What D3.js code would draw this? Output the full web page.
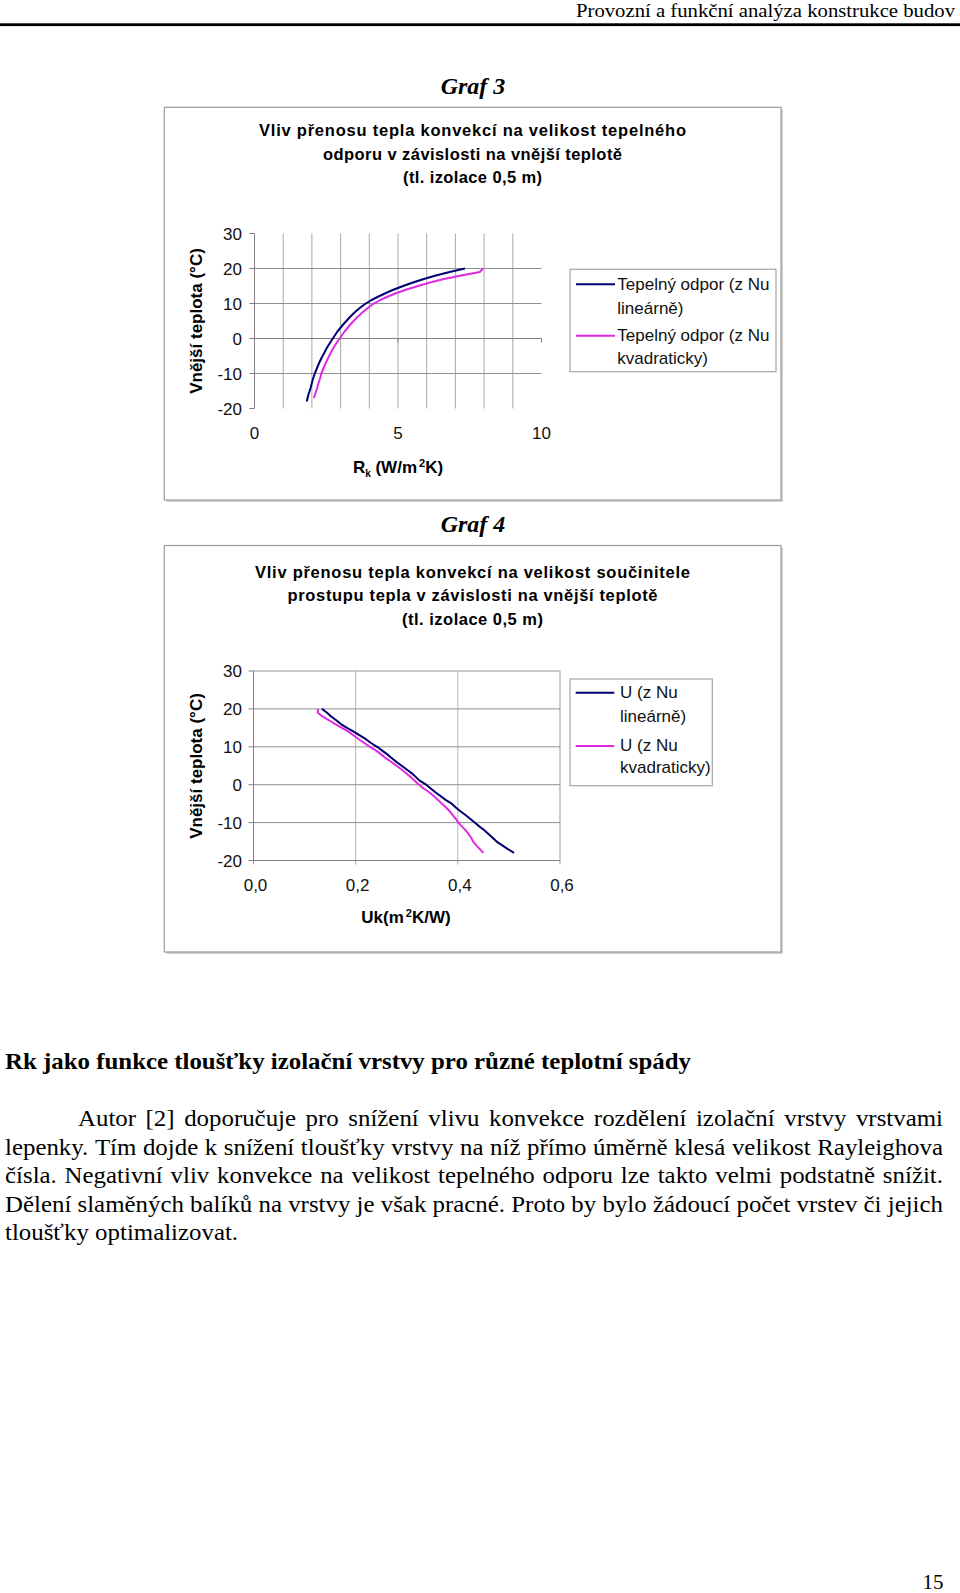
<!DOCTYPE html>
<html><head><meta charset="utf-8">
<script src="https://cdn.jsdelivr.net/npm/d3@7"></script>
<style>html,body{margin:0;padding:0;background:#fff;}svg{display:block;}</style>
</head><body>
<svg id="page" width="960" height="1593"></svg>
<script>
// ---------------- DATA ----------------
const temps = [-18,-17,-16,-15,-14,-13,-12,-11,-10,-9,-8,-7,-6,-5,-4,-3,-2,-1,0,1,2,3,4,5,6,7,8,9,10,11,12,13,14,15,16,17,18,19,20];
// Graf 3: thermal resistance Rk (W/m2K)
const rkLinear = [1.82,1.85,1.88,1.92,1.96,1.99,2.02,2.06,2.10,2.15,2.20,2.25,2.31,2.37,2.44,2.50,2.57,2.65,2.73,2.81,2.89,2.99,3.09,3.20,3.31,3.43,3.56,3.71,3.88,4.08,4.32,4.58,4.86,5.18,5.52,5.90,6.32,6.80,7.33];
const rkQuadratic = [null,2.07,2.11,2.15,2.19,2.22,2.26,2.30,2.33,2.38,2.43,2.48,2.54,2.60,2.66,2.73,2.80,2.88,2.97,3.05,3.14,3.24,3.34,3.45,3.57,3.70,3.84,3.99,4.16,4.38,4.65,4.95,5.30,5.70,6.12,6.60,7.20,7.85,7.96];
// Graf 4: U value
const ukLinear = [0.510,0.498,0.487,0.476,0.468,0.460,0.452,0.442,0.433,0.424,0.415,0.405,0.396,0.388,0.376,0.366,0.356,0.347,0.338,0.326,0.318,0.310,0.300,0.290,0.280,0.271,0.262,0.252,0.242,0.230,0.220,0.208,0.196,0.183,0.171,0.162,0.152,0.144,0.134];
const ukQuadratic = [0.450,0.443,0.436,0.430,0.426,0.421,0.415,0.408,0.401,0.396,0.390,0.384,0.377,0.369,0.361,0.353,0.344,0.333,0.324,0.316,0.308,0.299,0.290,0.280,0.270,0.259,0.250,0.240,0.228,0.217,0.206,0.196,0.186,0.173,0.160,0.148,0.135,0.126,0.126];

const tempTicks = [-20,-10,0,10,20,30];
const tempGrid = [-10,0,10,20];
const rkTicks = [0,5,10];
const rkTickLabels = ["0","5","10"];
const rkGrid = [1,2,3,4,5,6,7,8,9];
const ukTicks = [0,0.2,0.4,0.6];
const ukTickLabels = ["0,0","0,2","0,4","0,6"];
const ukGrid = [0.2,0.4];

const graf3Title = ["Vliv přenosu tepla konvekcí na velikost tepelného","odporu v závislosti na vnější teplotě","(tl. izolace 0,5 m)"];
const graf4Title = ["Vliv přenosu tepla konvekcí na velikost součinitele","prostupu tepla v závislosti na vnější teplotě","(tl. izolace 0,5 m)"];
const graf3Legend = [["Tepelný odpor (z Nu","lineárně)"],["Tepelný odpor (z Nu","kvadraticky)"]];
const graf4Legend = [["U (z Nu","lineárně)"],["U (z Nu","kvadraticky)"]];
const yAxisTitle = "Vnější teplota (°C)";

const headerText = "Provozní a funkční analýza konstrukce budov";
const headingText = "Rk jako funkce tloušťky izolační vrstvy pro různé teplotní spády";
const paragraphLines = [
 "Autor [2] doporučuje pro snížení vlivu konvekce rozdělení izolační vrstvy vrstvami",
 "lepenky. Tím dojde k snížení tloušťky vrstvy na níž přímo úměrně klesá velikost Rayleighova",
 "čísla. Negativní vliv konvekce na velikost tepelného odporu lze takto velmi podstatně snížit.",
 "Dělení slaměných balíků na vrstvy je však pracné. Proto by bylo žádoucí počet vrstev či jejich",
 "tloušťky optimalizovat."
];
const pageNumber = "15";

// ---------------- DRAWING ----------------
const svg = d3.select("#page");
svg.append("rect").attr("width",960).attr("height",1593).attr("fill","#fff");
const SERIF = "'Liberation Serif','Times New Roman',serif";
const SANS = "'Liberation Sans',Arial,sans-serif";
const NAVY = "#000070", MAG = "#e02ae0";

// header
svg.append("text").attr("x",955).attr("y",17).attr("text-anchor","end")
  .attr("font-family",SERIF).attr("font-size",19.5).attr("textLength",379).attr("lengthAdjust","spacingAndGlyphs")
  .text(headerText);
svg.append("rect").attr("x",0).attr("y",23.3).attr("width",960).attr("height",2.8).attr("fill","#000");

function grafLabel(txt, y){
  svg.append("text").attr("x",473).attr("y",y).attr("text-anchor","middle")
    .attr("font-family",SERIF).attr("font-size",24).attr("font-weight","bold").attr("font-style","italic").text(txt);
}
grafLabel("Graf 3",94);
grafLabel("Graf 4",531.5);

function frame(x0,y0,x1,y1){
  svg.append("line").attr("x1",x0+2).attr("x2",x1+1.5).attr("y1",y1+1).attr("y2",y1+1).attr("stroke","#d0d0d0").attr("stroke-width",2);
  svg.append("line").attr("x1",x1+1).attr("x2",x1+1).attr("y1",y0+2).attr("y2",y1+1.5).attr("stroke","#d0d0d0").attr("stroke-width",2);
  svg.append("rect").attr("x",x0).attr("y",y0).attr("width",x1-x0).attr("height",y1-y0)
    .attr("fill","none").attr("stroke","#9c9c9c").attr("stroke-width",1.2);
}

function titleBlock(lines, widths, baselines){
  lines.forEach((t,i)=>{
    svg.append("text").attr("x",472.5).attr("y",baselines[i]).attr("text-anchor","middle")
      .attr("font-family",SANS).attr("font-size",16.5).attr("font-weight","bold")
      .attr("textLength",widths[i]).attr("lengthAdjust","spacing").text(t);
  });
}

function legend(box, items, lineX, lineYs, textX, baselines){
  svg.append("rect").attr("x",box[0]).attr("y",box[1]).attr("width",box[2]-box[0]).attr("height",box[3]-box[1])
    .attr("fill","#fff").attr("stroke","#a6a6a6").attr("stroke-width",1.2);
  const cols=[NAVY,MAG];
  items.forEach((it,i)=>{
    svg.append("line").attr("x1",lineX[0]).attr("x2",lineX[1]).attr("y1",lineYs[i]).attr("y2",lineYs[i])
      .attr("stroke",cols[i]).attr("stroke-width",2);
    it.forEach((t,j)=>{
      svg.append("text").attr("x",textX).attr("y",baselines[i*2+j]).attr("font-family",SANS)
        .attr("font-size",17).attr("fill","#111").text(t);
    });
  });
}

function yTitle(cx,cy){
  svg.append("text").attr("transform",`translate(${cx},${cy}) rotate(-90)`).attr("text-anchor","middle")
    .attr("dominant-baseline","central").attr("font-family",SANS).attr("font-size",17).attr("font-weight","bold")
    .text(yAxisTitle);
}

function series(vals){
  return temps.map((t,i)=>({t:t,v:vals[i]}));
}
function drawLines(g,x,y,a,b){
  const line = d3.line().defined(d=>d.v!=null).x(d=>x(d.v)).y(d=>y(d.t));
  g.append("path").datum(series(a)).attr("d",line).attr("fill","none").attr("stroke",NAVY).attr("stroke-width",2).attr("stroke-linejoin","round");
  g.append("path").datum(series(b)).attr("d",line).attr("fill","none").attr("stroke",MAG).attr("stroke-width",2).attr("stroke-linejoin","round");
}

// ---------- Graf 3 ----------
frame(164.3,107.3,781,500);
titleBlock(graf3Title,[427,299,139],[136,159.5,183]);
{
  const x = d3.scaleLinear().domain([0,10]).range([254.5,541.5]);
  const y = d3.scaleLinear().domain([-20,30]).range([408.5,233.5]);
  const g = svg.append("g");
  g.selectAll(".vg").data(rkGrid).join("line").attr("x1",d=>x(d)).attr("x2",d=>x(d)).attr("y1",y(30)).attr("y2",y(-20))
    .attr("stroke","#a9a9a9").attr("stroke-width",1);
  g.selectAll(".hg").data(tempGrid).join("line").attr("x1",x(0)).attr("x2",x(10)).attr("y1",d=>y(d)).attr("y2",d=>y(d))
    .attr("stroke","#8f8f8f").attr("stroke-width",1);
  g.append("line").attr("x1",x(0)).attr("x2",x(0)).attr("y1",y(30)).attr("y2",y(-20)).attr("stroke","#808080");
  g.selectAll(".yt").data(tempTicks).join("line").attr("x1",x(0)-5).attr("x2",x(0)).attr("y1",d=>y(d)).attr("y2",d=>y(d)).attr("stroke","#808080");
  g.append("line").attr("x1",x(0)).attr("x2",x(10)).attr("y1",y(0)).attr("y2",y(0)).attr("stroke","#808080");
  g.selectAll(".xt").data(rkTicks).join("line").attr("x1",d=>x(d)).attr("x2",d=>x(d)).attr("y1",y(0)).attr("y2",y(0)+4).attr("stroke","#808080");
  drawLines(g,x,y,rkLinear,rkQuadratic);
  g.selectAll(".yl").data(tempTicks).join("text").attr("x",242).attr("y",d=>y(d)+6).attr("text-anchor","end")
    .attr("font-family",SANS).attr("font-size",17).attr("fill","#111").text(d=>d);
  g.selectAll(".xl").data(rkTicks).join("text").attr("x",d=>x(d)).attr("y",438.5).attr("text-anchor","middle")
    .attr("font-family",SANS).attr("font-size",17).attr("fill","#111").text((d,i)=>rkTickLabels[i]);
  const xt = g.append("text").attr("x",398).attr("y",473).attr("text-anchor","middle").attr("font-family",SANS)
    .attr("font-size",17).attr("font-weight","bold");
  xt.append("tspan").text("R");
  xt.append("tspan").attr("font-size",10).attr("dy",4).text("k");
  xt.append("tspan").attr("dy",-4).text(" (W/m");
  xt.append("tspan").attr("font-size",11).attr("dy",-6).attr("dx",2).text("2");
  xt.append("tspan").attr("dy",6).text("K)");
  yTitle(196,321);
}
legend([570,269.3,776,371.7],graf3Legend,[576,615],[284.3,335.7],617.3,[289.5,313.5,341,363.5]);

// ---------- Graf 4 ----------
frame(164.3,545.5,781,952);
titleBlock(graf4Title,[435,370,141],[577.5,601,625]);
{
  const x = d3.scaleLinear().domain([0,0.6]).range([253.5,560]);
  const y = d3.scaleLinear().domain([-20,30]).range([860.5,671]);
  const g = svg.append("g");
  g.selectAll(".vg").data(ukGrid).join("line").attr("x1",d=>x(d)).attr("x2",d=>x(d)).attr("y1",y(30)).attr("y2",y(-20))
    .attr("stroke","#b5b5b5").attr("stroke-width",1);
  g.selectAll(".hg").data(tempGrid).join("line").attr("x1",x(0)).attr("x2",x(0.6)).attr("y1",d=>y(d)).attr("y2",d=>y(d))
    .attr("stroke","#8f8f8f").attr("stroke-width",1);
  g.append("rect").attr("x",x(0)).attr("y",y(30)).attr("width",x(0.6)-x(0)).attr("height",y(-20)-y(30))
    .attr("fill","none").attr("stroke","#9a9a9a").attr("stroke-width",1);
  g.append("line").attr("x1",x(0)).attr("x2",x(0)).attr("y1",y(30)).attr("y2",y(-20)).attr("stroke","#808080");
  g.append("line").attr("x1",x(0)).attr("x2",x(0.6)).attr("y1",y(-20)).attr("y2",y(-20)).attr("stroke","#808080");
  g.selectAll(".yt").data(tempTicks).join("line").attr("x1",x(0)-5).attr("x2",x(0)).attr("y1",d=>y(d)).attr("y2",d=>y(d)).attr("stroke","#808080");
  g.selectAll(".xt").data(ukTicks).join("line").attr("x1",d=>x(d)).attr("x2",d=>x(d)).attr("y1",y(-20)).attr("y2",y(-20)+4).attr("stroke","#a0a0a0");
  drawLines(g,x,y,ukLinear,ukQuadratic);
  g.selectAll(".yl").data(tempTicks).join("text").attr("x",242).attr("y",d=>y(d)+6).attr("text-anchor","end")
    .attr("font-family",SANS).attr("font-size",17).attr("fill","#111").text(d=>d);
  g.selectAll(".xl").data(ukTicks).join("text").attr("x",d=>x(d)+2).attr("y",890.5).attr("text-anchor","middle")
    .attr("font-family",SANS).attr("font-size",17).attr("fill","#111").text((d,i)=>ukTickLabels[i]);
  const xt = g.append("text").attr("x",406).attr("y",923).attr("text-anchor","middle").attr("font-family",SANS)
    .attr("font-size",17).attr("font-weight","bold");
  xt.append("tspan").text("Uk(m");
  xt.append("tspan").attr("font-size",11).attr("dy",-6).attr("dx",2).text("2");
  xt.append("tspan").attr("dy",6).text("K/W)");
  yTitle(196,766);
}
legend([570,679,712.3,785.7],graf4Legend,[575.7,614.3],[692.7,746],620,[697.7,721.7,750.7,773.3]);

// ---------- body text ----------
svg.append("text").attr("x",5).attr("y",1068.5).attr("font-family",SERIF).attr("font-size",22.5).attr("font-weight","bold")
  .attr("textLength",686).attr("lengthAdjust","spacingAndGlyphs").text(headingText);
const lineStarts=[78,5,5,5,5], lineEnds=[943,943,943,943,237];
const baselines=[1126,1154.5,1183,1211.5,1240];
const BODY_SIZE = 22.5;
function measure(s){
  const tmp = svg.append("text").attr("font-family",SERIF).attr("font-size",BODY_SIZE).text(s);
  const w = tmp.node().getComputedTextLength(); tmp.remove(); return w;
}
// horizontal glyph stretch: from the tightest justified line
const stretch = d3.min(paragraphLines.slice(0,4), (t,i)=> (lineEnds[i]-lineStarts[i]) / measure(t));
const spaceW = measure("a a") - measure("aa");
paragraphLines.forEach((t,i)=>{
  const words = t.split(" ");
  const widths = words.map(measure);
  const total = d3.sum(widths) * stretch;
  const justified = i < paragraphLines.length-1;
  const gap = justified ? ((lineEnds[i]-lineStarts[i]) - total)/(words.length-1) : spaceW*stretch;
  let cx = lineStarts[i];
  const te = svg.append("text").attr("y",baselines[i]).attr("font-family",SERIF).attr("font-size",BODY_SIZE);
  words.forEach((w,k)=>{
    te.append("tspan").attr("x",cx).attr("textLength",widths[k]*stretch).attr("lengthAdjust","spacingAndGlyphs").text(w);
    cx += widths[k]*stretch + gap;
  });
});
svg.append("text").attr("x",943.5).attr("y",1588.5).attr("text-anchor","end").attr("font-family",SERIF).attr("font-size",21).text(pageNumber);
</script>
</body></html>
